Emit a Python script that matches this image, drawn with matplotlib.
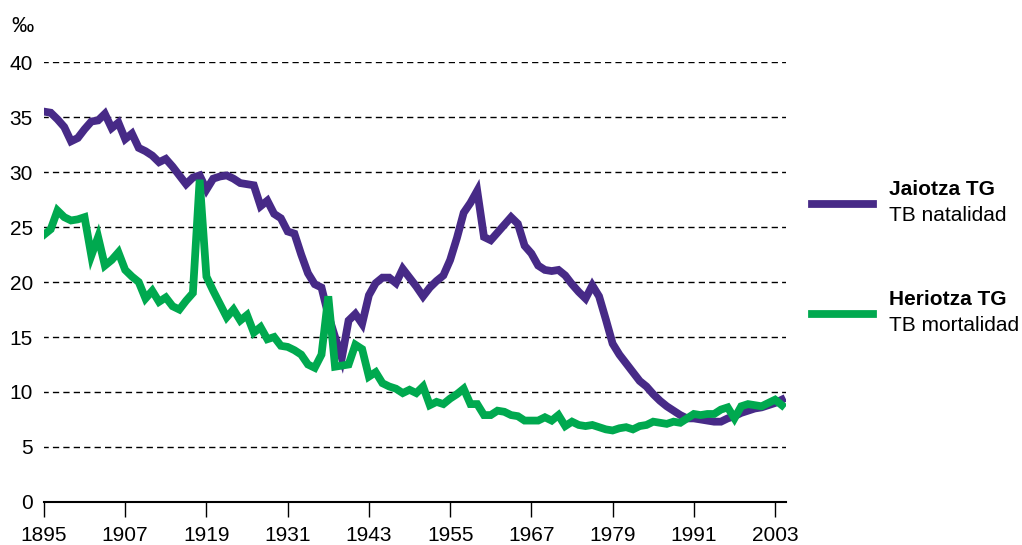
import numpy as np
import matplotlib.pyplot as plt
from matplotlib.lines import Line2D

plt.rcParams['font.family'] = ['Liberation Sans', 'DejaVu Sans']

years = np.arange(1895, 2005)
natalidad = [35.5, 35.4, 34.8, 34.1, 32.8, 33.1, 33.9, 34.6, 34.7, 35.3,
             34.0, 34.5, 33.0, 33.5, 32.2, 31.9, 31.5, 30.9, 31.2, 30.5,
             29.7, 28.9, 29.5, 29.7, 28.4, 29.4, 29.6, 29.7, 29.4, 29.0,
             28.9, 28.8, 26.9, 27.4, 26.2, 25.8, 24.6, 24.4, 22.5, 20.8,
             19.8, 19.5, 17.0, 15.0, 13.1, 16.5, 17.1, 16.2, 18.8, 19.9,
             20.4, 20.4, 19.9, 21.2, 20.4, 19.6, 18.7, 19.5, 20.1, 20.6,
             22.0, 24.0, 26.3, 27.2, 28.3, 24.1, 23.8, 24.5, 25.2, 25.9,
             25.3, 23.3, 22.6, 21.5, 21.1, 21.0, 21.1, 20.6, 19.8, 19.1,
             18.5, 19.7, 18.7, 16.6, 14.4, 13.4, 12.6, 11.8, 11.0, 10.5,
             9.8, 9.2, 8.7, 8.3, 7.9, 7.6, 7.6, 7.5, 7.4, 7.3,
             7.3, 7.6, 7.8, 8.1, 8.3, 8.5, 8.6, 8.8, 9.0, 9.3]
mortalidad = [24.3, 24.8, 26.5, 25.9, 25.6, 25.7, 25.9, 22.4, 24.1, 21.5,
              22.0, 22.7, 21.1, 20.5, 20.0, 18.5, 19.2, 18.2, 18.6, 17.8,
              17.5, 18.3, 19.0, 29.3, 20.5, 19.2, 18.0, 16.8, 17.5, 16.5,
              17.0, 15.4, 15.9, 14.8, 15.0, 14.2, 14.1, 13.8, 13.4, 12.5,
              12.2, 13.4, 18.7, 12.3, 12.4, 12.5, 14.3, 13.9, 11.4, 11.8,
              10.8, 10.5, 10.3, 9.9, 10.2, 9.9, 10.5, 8.8, 9.1, 8.9,
              9.4, 9.8, 10.3, 8.9, 8.9, 7.9, 7.9, 8.3, 8.2, 7.9,
              7.8, 7.4, 7.4, 7.4, 7.7, 7.4, 7.9, 6.9, 7.3, 7.0,
              6.9, 7.0, 6.8, 6.6, 6.5, 6.7, 6.8, 6.6, 6.9, 7.0,
              7.3, 7.2, 7.1, 7.3, 7.2, 7.6, 8.0, 7.9, 8.0, 8.0,
              8.4, 8.6, 7.6, 8.7, 8.9, 8.8, 8.7, 9.0, 9.3, 8.8]
xticks = list(range(1895, 2004, 12))
yticks = list(range(0, 41, 5))

purple = '#472a87'
green = '#00a94f'

fig = plt.figure(figsize=(10.22, 5.45), dpi=100)
ax = fig.add_axes([0.043, 0.079, 0.726, 0.807])

for y in yticks:
    ax.axhline(y, color='black', lw=1, ls=(0, (4.5, 3)), zorder=1, xmin=-0.003)

ax.plot(years, natalidad, color=purple, lw=5.6, solid_joinstyle='miter', zorder=3)
ax.plot(years, mortalidad, color=green, lw=5.6, solid_joinstyle='miter', zorder=4)

ax.set_xlim(1895, 2004.6)
ax.set_ylim(0, 40)
ax.set_xticks(xticks)
ax.set_yticks(yticks)
ax.tick_params(axis='y', length=0, pad=8, labelsize=15)
ax.tick_params(axis='x', length=11, width=1, direction='out', pad=6, labelsize=15)
for s in ['top', 'right', 'left']:
    ax.spines[s].set_visible(False)
ax.spines['bottom'].set_linewidth(1.5)
ax.spines['bottom'].set_zorder(5)

fig.text(0.011, 0.952, '‰', fontsize=16, ha='left', va='center')

# legend
fig.add_artist(Line2D([0.795, 0.854], [0.626, 0.626], color=purple, lw=5.6))
fig.text(0.870, 0.652, 'Jaiotza TG', fontsize=15, fontweight='bold', va='center')
fig.text(0.870, 0.605, 'TB natalidad', fontsize=15, va='center')
fig.add_artist(Line2D([0.795, 0.854], [0.424, 0.424], color=green, lw=5.6))
fig.text(0.870, 0.450, 'Heriotza TG', fontsize=15, fontweight='bold', va='center')
fig.text(0.870, 0.403, 'TB mortalidad', fontsize=15, va='center')

fig.savefig('out.png', dpi=100)
